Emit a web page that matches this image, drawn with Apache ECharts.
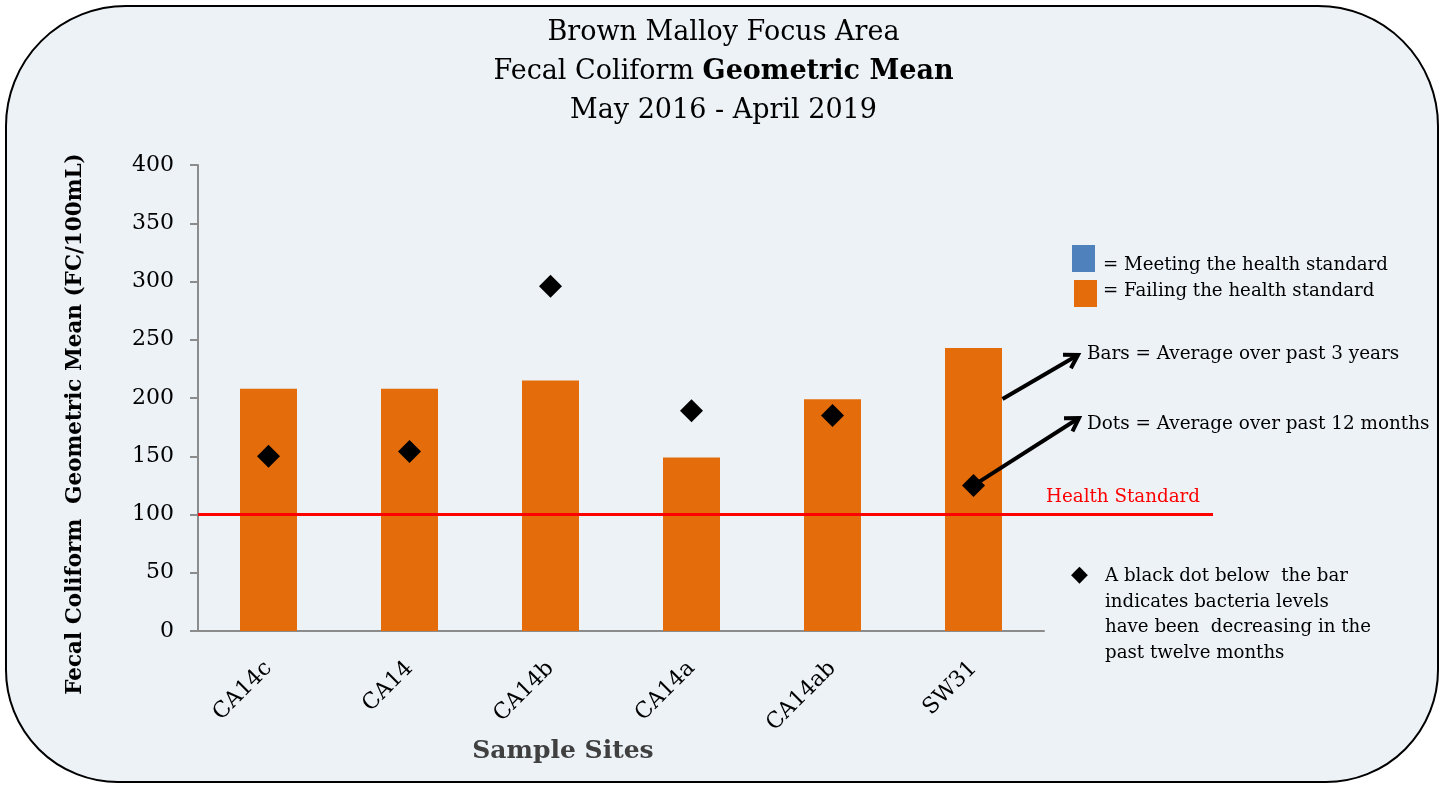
<!DOCTYPE html>
<html>
<head>
<meta charset="utf-8">
<script src="https://cdn.jsdelivr.net/npm/echarts@6/dist/echarts.min.js"></script>
<style>
  html, body { margin: 0; padding: 0; background: #ffffff; }
  #chart { width: 1447px; height: 787px; }
</style>
</head>
<body>
<div id="chart"></div>
<script>
// sample sites and their geometric means (FC/100mL)
var sites = ["CA14c", "CA14", "CA14b", "CA14a", "CA14ab", "SW31"];
var threeYearMean = [208, 208, 215, 149, 199, 243];   // bars
var twelveMonthMean = [150, 154, 296, 189, 185, 125]; // dots
var healthStandard = 100;
var yMin = 0, yMax = 400, yStep = 50;

var FONT = "DejaVu Serif";
var ORANGE = "#E46C0A", BLUE = "#4F81BD";

var chart = echarts.init(document.getElementById("chart"));

var option = {
    backgroundColor: "#ffffff",
    animation: false,
    title: {
        left: "center",
        top: 8,
        text: "{n|Brown Malloy Focus Area}\n{n|Fecal Coliform }{b|Geometric Mean}\n{n|May 2016 - April 2019}",
        textStyle: {
            fontWeight: "normal",
            rich: {
                n: {fontFamily: FONT, fontSize: 27, color: "#000", fontWeight: "normal", lineHeight: 39},
                b: {fontFamily: FONT, fontSize: 27, color: "#000", fontWeight: "bold", lineHeight: 39}
            }
        }
    },
    grid: {left: 198, top: 165, right: 403, bottom: 156},
    xAxis: {
        type: "category",
        data: sites,
        axisLine: {lineStyle: {color: "#8c8c8c", width: 2}},
        axisTick: {length: 8, lineStyle: {color: "#8c8c8c", width: 2}},
        axisLabel: {rotate: 45, fontFamily: FONT, fontSize: 22, color: "#000", margin: 34}
    },
    yAxis: {
        type: "value",
        min: yMin, max: yMax, interval: yStep,
        splitLine: {show: false},
        axisLine: {show: true, lineStyle: {color: "#8c8c8c", width: 2}},
        axisTick: {show: true, length: 8, lineStyle: {color: "#8c8c8c", width: 2}},
        axisLabel: {fontFamily: FONT, fontSize: 22, color: "#000", margin: 24}
    },
    series: [{
        name: "3 years",
        type: "bar",
        data: threeYearMean,
        barWidth: 57,
        itemStyle: {
            color: function (p) { return p.value > healthStandard ? ORANGE : BLUE; }
        },
        z: 2
    }, {
        name: "12 months",
        type: "scatter",
        data: twelveMonthMean,
        symbol: "diamond",
        symbolSize: [23, 23],
        itemStyle: {color: "#000", opacity: 1},
        z: 5
    }]
};

chart.setOption(option);

// annotations placed after the scales are known
var y100 = chart.convertToPixel({yAxisIndex: 0}, healthStandard);
var lastDot = chart.convertToPixel({seriesIndex: 1}, [sites.length - 1, twelveMonthMean[sites.length - 1]]);
var lastBarX = chart.convertToPixel({xAxisIndex: 0}, sites[sites.length - 1]);

function arrow(x1, y1, x2, y2) {
    var a = Math.atan2(y2 - y1, x2 - x1), L = 15, w = 0.55;
    return [{
        type: "line", z: 20,
        shape: {x1: x1, y1: y1, x2: x2, y2: y2},
        style: {stroke: "#000", lineWidth: 4}
    }, {
        type: "polyline", z: 20,
        shape: {points: [
            [x2 - L * Math.cos(a - w), y2 - L * Math.sin(a - w)],
            [x2, y2],
            [x2 - L * Math.cos(a + w), y2 - L * Math.sin(a + w)]
        ]},
        style: {stroke: "#000", lineWidth: 4, fill: null}
    }];
}

function label(x, y, s, size, extra) {
    var st = {text: s, fontFamily: FONT, fontSize: size, fill: "#000", verticalAlign: "middle"};
    for (var k in extra) st[k] = extra[k];
    return {type: "text", z: 20, x: x, y: y, style: st};
}

var graphics = [{
    type: "rect", z: -10, silent: true,
    shape: {x: 6, y: 6, width: 1432, height: 776, r: [120, 120, 112, 112]},
    style: {fill: "#EDF2F7", stroke: "#000", lineWidth: 2}
}, {
    type: "line", z: 10,
    shape: {x1: 198, y1: y100, x2: 1213, y2: y100},
    style: {stroke: "#ff0000", lineWidth: 3}
},
    label(1046, y100 - 17, "Health Standard", 18.3, {fill: "#ff0000"}),
{
    type: "rect", z: 20, shape: {x: 1072, y: 245, width: 23, height: 27}, style: {fill: BLUE}
}, {
    type: "rect", z: 20, shape: {x: 1074, y: 280, width: 23, height: 27}, style: {fill: ORANGE}
},
    label(1103, 265, "= Meeting the health standard", 18.2),
    label(1103, 291, "= Failing the health standard", 18.2),
    label(1087, 354, "Bars = Average over past 3 years", 18.4),
    label(1087, 424, "Dots = Average over past 12 months", 18.4),
    label(1071, 575, "\u25C6", 22),
{
    type: "text", z: 20, x: 1105, y: 564,
    style: {
        text: "A black dot below  the bar\nindicates bacteria levels\nhave been  decreasing in the\npast twelve months",
        fontFamily: FONT, fontSize: 18.2, fill: "#000", lineHeight: 25.5, verticalAlign: "top"
    }
}, {
    // y axis title
    type: "text", z: 20, x: 75, y: 424, rotation: Math.PI / 2,
    style: {
        text: "Fecal Coliform  Geometric Mean (FC/100mL)", fontFamily: FONT, fontSize: 21.5,
        fontWeight: "bold", fill: "#000", align: "center", verticalAlign: "middle"
    }
}, {
    // x axis title
    type: "text", z: 20, x: 563, y: 751,
    style: {
        text: "Sample Sites", fontFamily: FONT, fontSize: 25,
        fontWeight: "bold", fill: "#404040", align: "center", verticalAlign: "middle"
    }
}];

graphics = graphics.concat(arrow(lastBarX + 29, 399, 1078, 355));
graphics = graphics.concat(arrow(lastDot[0], lastDot[1], 1079, 418));

chart.setOption({graphic: graphics});
</script>
</body>
</html>
